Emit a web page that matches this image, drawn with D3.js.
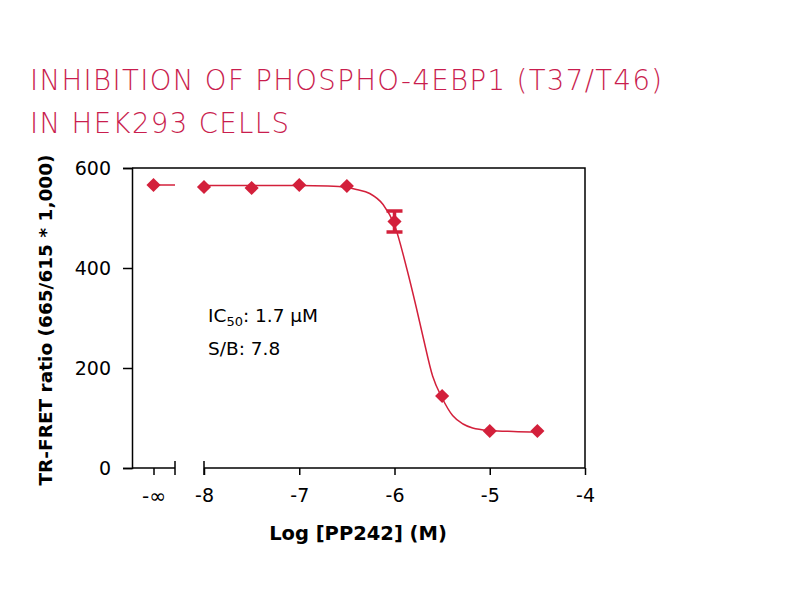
<!DOCTYPE html>
<html>
<head>
<meta charset="utf-8">
<script src="https://cdn.jsdelivr.net/npm/d3@7"></script>
<style>
  body { margin: 0; background: #fff; }
  text { font-family: "DejaVu Sans", sans-serif; }
</style>
</head>
<body>
<svg id="chart" width="800" height="600"></svg>
<script>
// measured points (log M), vehicle plotted at -inf
var logConc = [-8, -7.5, -7, -6.5, -6, -5.5, -5, -4.5];
var ratio = [562, 560, 566, 564, 493, 144, 74, 74];
var ratioErr = [0, 0, 0, 0, 21, 0, 0, 0];
var vehicleRatio = 566;

// fitted curve
var curveLog = [-8, -7.5, -7, -6.7, -6.5, -6.4, -6.26, -6.12, -6, -5.87, -5.77, -5.7, -5.6, -5.5, -5.39, -5.28, -5.18, -5, -4.75, -4.5];
var curveVal = [565, 565, 565, 564, 561, 557, 549, 527, 486, 398, 320, 262, 184, 140, 105, 88, 80, 75, 73, 72];

var yTicks = [0, 200, 400, 600];
var xTicks = [-8, -7, -6, -5, -4];

var red = '#d3203b';
var svg = d3.select('#chart');

var plotL = 132, plotR = 585, plotT = 168, plotB = 468;

var y = d3.scaleLinear().domain([0, 600]).range([plotB, plotT]);
var x = d3.scaleLinear().domain([-8, -4]).range([204, plotR]);
// short broken segment for -inf
var xInf = d3.scaleLinear().domain([0, 2]).range([plotL, 175]);

var tickFont = '19px';

// title
var title = svg.append('g').attr('fill', '#c91d4e')
  .style('font-size', '27.5px').style('font-weight', 200).style('letter-spacing', '1.4px');
title.append('text').attr('x', 30).attr('y', 90).text('INHIBITION OF PHOSPHO-4EBP1 (T37/T46)');
title.append('text').attr('x', 30).attr('y', 133).text('IN HEK293 CELLS');

// frame: top + right borders
svg.append('path')
  .attr('d', 'M' + plotL + ',' + plotT + 'H' + plotR + 'V' + plotB)
  .attr('fill', 'none').attr('stroke', '#000').attr('stroke-width', 1.5);

// y axis
var yAxis = svg.append('g').attr('transform', 'translate(' + plotL + ',0)')
  .call(d3.axisLeft(y).tickValues(yTicks).tickSize(9).tickPadding(12));
yAxis.select('.domain').attr('stroke-width', 1.5);
yAxis.selectAll('.tick line').attr('stroke-width', 1.5);
yAxis.selectAll('text').style('font-size', tickFont).attr('fill', '#000')
  .style('font-family', '"DejaVu Sans", sans-serif');

// x axis, main segment
var xAxis = svg.append('g').attr('transform', 'translate(0,' + plotB + ')')
  .call(d3.axisBottom(x).tickValues(xTicks).tickSize(7).tickPadding(14).tickFormat(d3.format('d')));
xAxis.select('.domain').attr('d', 'M' + x(-8) + ',0H' + plotR).attr('stroke-width', 1.5);
xAxis.selectAll('.tick line').attr('stroke-width', 1.5);
xAxis.selectAll('text').style('font-size', tickFont).attr('fill', '#000')
  .style('font-family', '"DejaVu Sans", sans-serif')
  .text(function (d) { return '-' + Math.abs(d); });

// x axis, -inf segment
var xAxisInf = svg.append('g').attr('transform', 'translate(0,' + plotB + ')')
  .call(d3.axisBottom(xInf).tickValues([1]).tickSize(7).tickPadding(14).tickFormat(function () { return '-∞'; }));
xAxisInf.select('.domain').attr('d', 'M' + plotL + ',0H' + xInf(2)).attr('stroke-width', 1.5);
xAxisInf.selectAll('.tick line').attr('stroke-width', 1.5);
xAxisInf.selectAll('text').style('font-size', '20px').attr('fill', '#000')
  .style('font-family', '"DejaVu Sans", sans-serif');

// end caps of the broken segments
[xInf(2), x(-8)].forEach(function (px) {
  svg.append('line').attr('x1', px).attr('x2', px).attr('y1', plotB - 7).attr('y2', plotB + 7)
    .attr('stroke', '#000').attr('stroke-width', 1.5);
});

// axis titles
svg.append('text')
  .attr('transform', 'translate(52,' + ((plotT + plotB) / 2 + 2) + ') rotate(-90)')
  .attr('text-anchor', 'middle').style('font-size', '18.5px').style('font-weight', 'bold')
  .text('TR-FRET ratio (665/615 * 1,000)');
svg.append('text')
  .attr('x', 358).attr('y', 540).attr('text-anchor', 'middle')
  .style('font-size', '19.5px').style('font-weight', 'bold')
  .text('Log [PP242] (M)');

// annotation
var note = svg.append('g').style('font-size', '18.5px');
var ic = note.append('text').attr('x', 208).attr('y', 322);
ic.append('tspan').text('IC');
ic.append('tspan').attr('dy', 4).style('font-size', '13px').text('50');
ic.append('tspan').attr('dy', -4).text(': 1.7 µM');
note.append('text').attr('x', 208).attr('y', 355).text('S/B: 7.8');

// vehicle stub
svg.append('line')
  .attr('x1', xInf(1)).attr('x2', xInf(2))
  .attr('y1', y(vehicleRatio)).attr('y2', y(vehicleRatio))
  .attr('stroke', red).attr('stroke-width', 1.5);

// fitted curve
var line = d3.line()
  .x(function (d, i) { return x(curveLog[i]); })
  .y(function (d) { return y(d); })
  .curve(d3.curveMonotoneX);
svg.append('path').datum(curveVal).attr('d', line)
  .attr('fill', 'none').attr('stroke', red).attr('stroke-width', 1.5);

// error bars
var points = logConc.map(function (c, i) { return { c: c, v: ratio[i], e: ratioErr[i] }; });
var eb = svg.append('g').attr('stroke', red).attr('stroke-width', 3.5);
points.filter(function (d) { return d.e > 0; }).forEach(function (d) {
  var cx = x(d.c);
  eb.append('line').attr('x1', cx).attr('x2', cx).attr('y1', y(d.v + d.e)).attr('y2', y(d.v - d.e));
  eb.append('line').attr('x1', cx - 8).attr('x2', cx + 8).attr('y1', y(d.v + d.e)).attr('y2', y(d.v + d.e));
  eb.append('line').attr('x1', cx - 8).attr('x2', cx + 8).attr('y1', y(d.v - d.e)).attr('y2', y(d.v - d.e));
});

// diamonds
var diamond = d3.symbol().type(d3.symbolSquare).size(100);
svg.append('g').selectAll('path').data(points).join('path')
  .attr('d', diamond)
  .attr('transform', function (d) { return 'translate(' + x(d.c) + ',' + y(d.v) + ') rotate(45)'; })
  .attr('fill', red);
svg.append('path').attr('d', diamond)
  .attr('transform', 'translate(' + xInf(1) + ',' + y(vehicleRatio) + ') rotate(45)')
  .attr('fill', red);
</script>
</body>
</html>
